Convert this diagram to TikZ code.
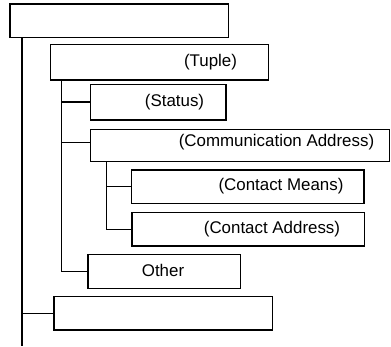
\documentclass[tikz,border=0pt]{standalone}
\usepackage{fontspec}
\setmainfont{Liberation Sans}
\begin{document}
\begin{tikzpicture}[x=1pt,y=-1pt,
  box/.style={draw,line width=1.4pt,inner sep=0pt,rectangle},
  lbl/.style={inner sep=0pt,font=\fontsize{16.9}{19}\selectfont},
  conn/.style={line width=1.4pt}]
\useasboundingbox (0,0) rectangle (391,347);
\node[box,minimum width=218.7pt,minimum height=33.7pt] (root) at (119.3,20.8) {};
\node[box,minimum width=217.6pt,minimum height=35.7pt] (tuple) at (159.5,62.2) {};
\node[box,minimum width=135.3pt,minimum height=35.7pt] (status) at (158.3,102.2) {};
\node[box,minimum width=299pt,minimum height=32.4pt] (comm) at (239.8,145.5) {};
\node[box,minimum width=232.3pt,minimum height=33.3pt] (means) at (247.8,186.7) {};
\node[box,minimum width=232.7pt,minimum height=33.3pt] (addr) at (248.3,229.3) {};
\node[box,minimum width=152.3pt,minimum height=34pt] (other) at (164.2,271.3) {};
\node[box,minimum width=218.7pt,minimum height=33.3pt] (last) at (163.3,313.3) {};
\node[lbl] (tuplet) at (210.5,62) {(Tuple)};
\node[lbl] (statust) at (174.5,102.5) {(Status)};
\node[lbl] (commt) at (276.5,142) {(Communication Address)};
\node[lbl] (meanst) at (281,186.5) {(Contact Means)};
\node[lbl] (addrt) at (272,229.5) {(Contact Address)};
\node[lbl] (othert) at (163,270.5) {Other};
\coordinate (rootend) at (22,346);
\draw[conn] (root.south -| rootend) -- (rootend);
\draw[conn] (last.west -| rootend) -- (last.west);
\draw[conn] ([xshift=11.3pt]tuple.south west) |- (other.west);
\draw[conn] ([xshift=11.3pt]tuple.south west |- status.west) -- (status.west);
\draw[conn] ([xshift=11.3pt,yshift=3pt]tuple.south west |- comm.west) -- ([yshift=3pt]comm.west);
\draw[conn] ([xshift=16.7pt]comm.south west) |- (addr.west);
\draw[conn] ([xshift=16.7pt]comm.south west |- means.west) -- (means.west);
\end{tikzpicture}
\end{document}
